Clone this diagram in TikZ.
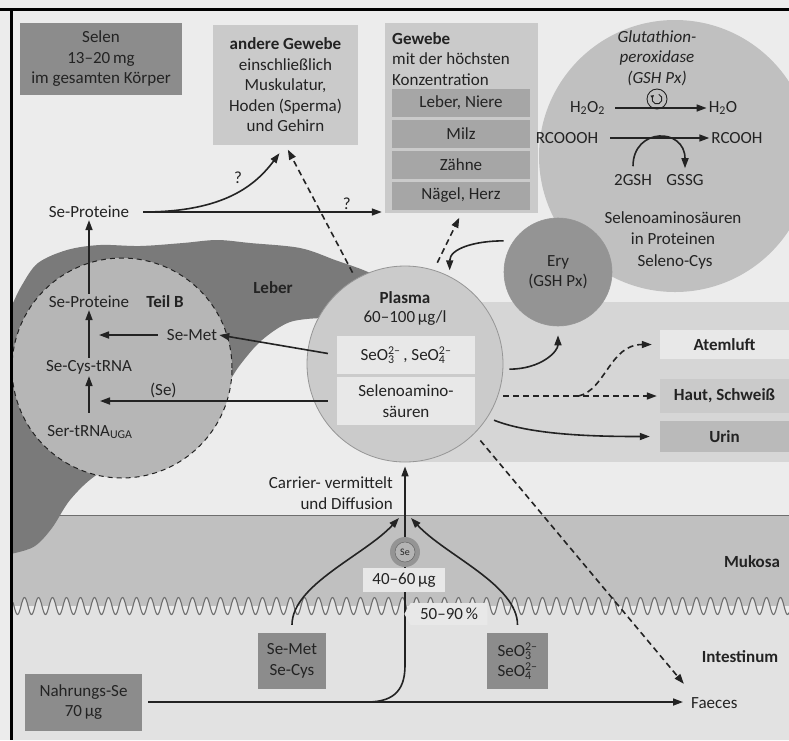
\documentclass[tikz,border=0pt]{standalone}
\usepackage{fontspec}
\setmainfont{Carlito}
\usepackage{tikz}
\usetikzlibrary{arrows.meta, positioning, shapes.symbols, calc}
\definecolor{colInk}{RGB}{35,35,35}
\definecolor{colPaper}{RGB}{236,236,236}
\definecolor{colBlood}{RGB}{214,214,214}
\definecolor{colLiver}{RGB}{122,122,122}
\definecolor{colTeilB}{RGB}{182,182,182}
\definecolor{colPlasma}{RGB}{203,203,203}
\definecolor{colEry}{RGB}{148,148,148}
\definecolor{colGSH}{RGB}{192,192,192}
\definecolor{colDarkBox}{RGB}{140,140,140}
\definecolor{colGreyBox}{RGB}{202,202,202}
\definecolor{colSubBox}{RGB}{166,166,166}
\definecolor{colPaleBox}{RGB}{232,232,232}
\definecolor{colMukosa}{RGB}{192,192,192}
\definecolor{colGut}{RGB}{226,226,226}
\definecolor{colWave}{RGB}{110,110,110}
\definecolor{colEdge}{RGB}{150,150,150}
\definecolor{colSeCore}{RGB}{180,180,180}
\newcommand{\basefont}{\fontsize{17}{20.5}\selectfont}
\newcommand{\ionsub}[2]{\rlap{\textsubscript{#1}}\textsuperscript{#2}}
\tikzset{
  darkbox/.style={
    rectangle, fill=colDarkBox, align=center, inner sep=0pt
  },
  greybox/.style={
    rectangle, fill=colGreyBox, align=center, inner sep=0pt
  },
  palebox/.style={
    rectangle, fill=colPaleBox, align=center, inner sep=0pt
  },
  subbox/.style={
    rectangle, fill=colSubBox, minimum width=138pt, minimum height=28pt,
    inner sep=0pt, outer sep=0pt
  },
  sinkbox/.style={
    rectangle, minimum width=129pt, inner sep=0pt, font=\basefont\bfseries
  },
  lbl/.style={
    inner sep=2pt, align=center
  },
  region/.style={
    inner sep=2pt, font=\basefont\bfseries
  },
  flow/.style={
    draw=colInk, line width=1.6pt, -{Triangle[length=10pt, width=7pt]}
  },
  dflow/.style={
    flow, dash pattern=on 6pt off 4pt
  },
}

\begin{document}
\begin{tikzpicture}[x=1pt, y=-1pt, font=\basefont, text=colInk, node distance=3pt]
\useasboundingbox (0,0) rectangle (789,740);
\fill[colPaper] (0,0) rectangle (789,740);

\begin{scope}
\clip (13,11) rectangle (789,740);

% ── Layers ─────────────────────────────────────────────────────────────────
\fill[colBlood] (405,302) rectangle (789,462);
\fill[colMukosa] (13,515) rectangle (789,606);
\fill[colGut] plot[domain=13:789, samples=1200, smooth] (\x, {606+8.5*sin(mod(\x,14)*25.7143)})
  -- (789,740) -- (13,740) -- cycle;
\draw[colWave, line width=1.1pt] plot[domain=13:789, samples=1200, smooth] (\x, {606+8.5*sin(mod(\x,14)*25.7143)});
\draw[colWave, line width=1pt] (13,515) -- (789,515);

% Leber
\fill[colLiver] plot[smooth, tension=0.55] coordinates {(0,330) (12,305) (22,285) (38,263) (67,250)
  (100,245) (140,246) (183,243) (217,240) (250,243) (300,248) (335,260) (372,274) (400,295)}
  -- plot[smooth, tension=0.55] coordinates {(322,318) (290,322) (262,340) (240,365) (222,392)
  (198,417) (166,437) (132,457) (95,476) (70,500) (52,528) (35,546) (15,553) (0,555)} -- cycle;

% ── Circles ────────────────────────────────────────────────────────────────
\node[circle, fill=colTeilB, draw=colInk, line width=1pt, dash pattern=on 5pt off 4pt,
  minimum size=220pt, inner sep=0pt] (teilbcirc) at (122,368) {};
\node[circle, fill=colPlasma, draw=colEdge, line width=0.8pt,
  minimum size=196pt, inner sep=0pt] (plasma) at (405,364) {};

% ── Top boxes ──────────────────────────────────────────────────────────────
\node[darkbox, minimum width=162pt, minimum height=72pt] (selen) at (101,59)
  {Selen\\13–20\,mg\\im gesamten Körper};
\node[greybox, minimum width=145pt, minimum height=120pt] (andere) at (285.5,85)
  {\textbf{andere Gewebe}\\einschließlich\\Muskulatur,\\Hoden (Sperma)\\und Gehirn};
\node[greybox, minimum width=153pt, minimum height=190pt] (gewebe) at (461.5,118) {};
\node[lbl, anchor=north west, align=left] (gewhead) at (390,30)
  {\textbf{Gewebe}\\mit der höchsten\\Konzentration};
\node[subbox] (leber) at (461,102.5) {Leber, Niere};
\node[subbox, below=of leber] (milz) {Milz};
\node[subbox, below=of milz] (zaehne) {Zähne};
\node[subbox, below=of zaehne] (naegel) {Nägel, Herz};

\node[circle, fill=colGSH, minimum size=272pt, inner sep=0pt] (gsh) at (675,156) {};
\node[circle, fill=colEry, draw=colEdge, line width=0.6pt, minimum size=108pt,
  inner sep=0pt, align=center] (ery) at (558,272) {Ery\\(GSH Px)};
\end{scope}

% ── GSH Px reactions ───────────────────────────────────────────────────────
\node[lbl, font=\basefont\itshape] (enzyme) at (657,58) {Glutathion-\\peroxidase\\(GSH Px)};
\node[circle, draw=colInk, line width=0.9pt, minimum size=20pt, inner sep=0pt] (cyc) at (657,99) {};
\draw[colInk, line width=0.9pt, -{Triangle[length=3pt, width=3.5pt]}]
  ($(cyc.center)+(70:5pt)$) arc[start angle=70, end angle=-230, radius=5pt];
\node[lbl] (h2o2) at (587.5,108) {H\textsubscript{2}O\textsubscript{2}};
\node[lbl] (h2o) at (723,108) {H\textsubscript{2}O};
\node[lbl] (rcoooh) at (567,138) {RCOOOH};
\node[lbl] (rcooh) at (737,138) {RCOOH};
\node[lbl] (gsh2) at (633,180) {2GSH};
\node[lbl] (gssg) at (685,180) {GSSG};
\node[lbl] (seaaprot) at (673,228) {Selenoaminosäuren\\in Proteinen};
\node[lbl] (selcys) at (675,262) {Seleno-Cys};

\draw[flow, shorten <=8pt] (h2o2.east) -- (h2o.west);
\draw[flow, shorten <=10pt] (rcoooh.east) -- (rcooh.west);
\draw[flow, shorten <=6pt, shorten >=4pt] (gsh2.north) .. controls +(0,-45) and +(0,-45) .. (gssg.north);

% ── Plasma ─────────────────────────────────────────────────────────────────
\node[lbl, font=\basefont\bfseries] (plasmatitle) at (405,298) {Plasma};
\node[lbl] (plasmaconc) at (405,318) {60–100\,µg/l};
\node[palebox, minimum width=138pt, minimum height=38pt] (seox) at (406,355)
  {SeO\ionsub{3}{2–}\,, SeO\ionsub{4}{2–}};
\node[palebox, minimum width=138pt, minimum height=48pt] (seaa) at (406,401) {Selenoamino-\\säuren};

% ── Leber / Teil B ─────────────────────────────────────────────────────────
\node[region] (leberlbl) at (273,288) {Leber};
\node[lbl] (seprotT) at (89,212) {Se-Proteine};
\node[lbl] (seprotB) at (89,302) {Se-Proteine};
\node[region] (teilb) at (165,302) {Teil B};
\node[lbl] (semetB) at (192,335) {Se-Met};
\node[lbl] (secys) at (89,367) {Se-Cys-tRNA};
\node[lbl] (sertrna) at (90,432) {Ser-tRNA\textsubscript{UGA}};

\draw[flow, shorten <=10pt] (sertrna.north -| secys.south) -- (secys.south);
\draw[flow] (secys.north) -- (seprotB.south);
\draw[flow] (seprotB.north) -- (seprotT.south);
\draw[flow, shorten <=7pt, shorten >=10pt] (semetB.west) -- (semetB.west -| secys.center);
\draw[flow, shorten <=9pt] (seox.west) -- (semetB.east);
\draw[flow, shorten <=9pt, shorten >=11pt] (seaa.west)
  -- node[lbl, above, pos=0.70] (selbl) {(Se)} (seaa.west -| secys.center);

% ── Upper flows ────────────────────────────────────────────────────────────
\draw[flow, shorten <=12pt, shorten >=3pt] (seprotT.east)
  -- node[lbl, above, pos=0.85] (qgew) {?} (seprotT.east -| gewebe.west);
\draw[flow, shorten <=12pt, shorten >=10pt] (seprotT.east) .. controls +(93,0) and +(-30,40) .. (andere.south);
\node[lbl] (qand) at (238,178) {?};
\draw[dflow, shorten <=7pt, shorten >=5pt] (plasma.120) -- (andere.south);
\draw[dflow, shorten <=8pt, shorten >=5pt] (plasma.73) -- (gewebe.south);
\draw[flow, shorten <=10pt, shorten >=6pt] (ery.145) .. controls +(-38,0) and +(0,-28) .. (plasma.63);
\draw[flow, shorten <=6pt, shorten >=9pt] (plasma.-3) .. controls +(38,0) and +(0,25) .. (ery.south);

% ── Excretion ──────────────────────────────────────────────────────────────
\node[sinkbox, fill=colPaleBox, minimum height=29pt] (atem) at (724.5,344.5) {Atemluft};
\node[sinkbox, fill=colGreyBox, minimum height=34pt] (haut) at (724.5,396) {Haut, Schweiß};
\node[sinkbox, fill=colGreyBox!92!black, minimum height=31pt] (urin) at (724.5,436.5) {Urin};

\coordinate (fork) at ($(haut.west -| plasma.east)!0.48!(haut.west)$);
\draw[dflow, shorten >=3pt] (haut.west -| plasma.east) -- (haut.west);
\draw[dflow, shorten >=8pt] (fork) .. controls +(27,-6) and +(-50,0) .. (atem.west);
\draw[flow, shorten <=7pt, shorten >=10pt] (plasma.-33) .. controls +(45,18) and +(-60,0) .. (urin.west);

% ── Darm ───────────────────────────────────────────────────────────────────
\node[region] (mukosa) at (752,562) {Mukosa};
\node[region] (intest) at (740,657) {Intestinum};
\node[lbl, anchor=east, align=right] (carrier) at (395,493) {Carrier- vermittelt\\und Diffusion};

\node[darkbox, minimum width=117pt, minimum height=57pt] (nahr) at (83.5,702) {Nahrungs-Se\\70\,µg};
\node[darkbox, minimum width=68pt, minimum height=56pt] (semet) at (292,661) {Se-Met\\Se-Cys};
\node[darkbox, minimum width=61pt, minimum height=56pt] (seoin) at (517.5,661)
  {SeO\ionsub{3}{2–}\\SeO\ionsub{4}{2–}};
\node[lbl, anchor=west] (faeces) at (689,703) {Faeces};

\coordinate (split) at (367,702);
\coordinate (rise) at ($(split -| plasma.south)+(0,-37)$);
\coordinate (gate) at (405,518);

\draw[flow, shorten <=6pt, shorten >=6pt] (nahr.east) -- (nahr.east -| faeces.west);
\draw[flow, shorten >=4pt] (split) .. controls +(30,0) and +(0,22) .. (rise) -- (plasma.south);
\draw[dflow, shorten <=9pt, shorten >=8pt] (plasma.-45) -- ([yshift=13pt]faeces.west);

\node[circle, fill=colEry, minimum size=30pt, inner sep=0pt] (seion) at (405,552) {};
\node[circle, draw=colInk!70, line width=0.5pt, fill=colSeCore, minimum size=20pt, inner sep=0pt,
  font=\fontsize{10}{10}\selectfont] (secore) at (seion) {Se};
\node[palebox, minimum width=82pt, minimum height=24pt] (dose) at (404,580) {40–60\,µg};
\node[signal, signal to=west, signal pointer angle=120, fill=colPaleBox, minimum width=83pt,
  minimum height=22pt, inner sep=0pt] (rate) at (449,614) {50–90\,\%};

\draw[flow, shorten <=8pt] (semet.north) .. controls +(0,-48) and +(-34,37) .. ([xshift=-6pt]gate);
\draw[flow, shorten <=8pt] (seoin.north) .. controls +(0,-48) and +(34,37) .. ([xshift=6pt]gate);

% ── Frame ──────────────────────────────────────────────────────────────────
\draw[black, line width=3pt] (0,9.5) -- (789,9.5);
\draw[black, line width=3pt] (11.5,8) -- (11.5,740);

\end{tikzpicture}
\end{document}
